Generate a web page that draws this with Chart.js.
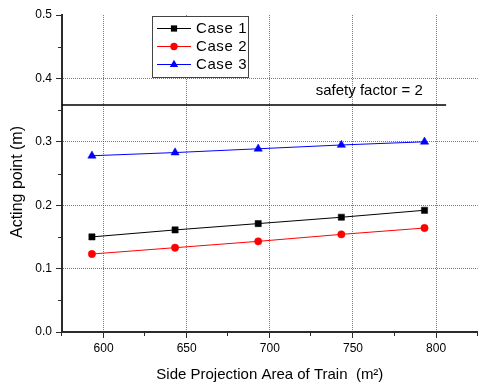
<!DOCTYPE html>
<html>
<head>
<meta charset="utf-8">
<script src="https://cdn.jsdelivr.net/npm/chart.js@4/dist/chart.umd.min.js"></script>
<style>
  html, body { margin: 0; padding: 0; background: #fff; }
  canvas { display: block; }
</style>
</head>
<body>
<canvas id="chart" width="483" height="383"></canvas>
<script>
// Side projection area of the train (m²) for each computed case
const areas = [593, 643, 693, 743, 793];
// Acting point height (m) per case
const case1 = [0.150, 0.161, 0.171, 0.181, 0.192];
const case2 = [0.123, 0.133, 0.143, 0.154, 0.164];
const case3 = [0.278, 0.283, 0.289, 0.295, 0.300];
const seriesNames = ['Case 1', 'Case 2', 'Case 3'];

// Axis ticks
const xMajorTicks = [600, 650, 700, 750, 800];
const xMinorTicks = [575, 625, 675, 725, 775, 825];
const yMajorTicks = [0, 0.1, 0.2, 0.3, 0.4, 0.5];
const yMinorTicks = [0.05, 0.15, 0.25, 0.35, 0.45];

// Safety-factor limit line
const safetyLevel = 0.358;
const safetySpan = [575, 806];
const safetyLabel = 'safety factor = 2';

const xTitle = 'Side Projection Area of Train  (m\u00B2)';
const yTitle = 'Acting point (m)';

const FONT = "'Liberation Sans', Arial, sans-serif";
const AXIS_COLOR = '#2b2b2b';
const GRID_COLOR = 'rgba(40,40,255,0.7)';

const styles = [
  { color: '#000000', pointStyle: 'rect', radius: 4.4 },
  { color: '#ff0000', pointStyle: 'circle', radius: 3.7 },
  { color: '#0000ff', pointStyle: 'triangle', radius: 4.8 }
];
const seriesValues = [case1, case2, case3];

const datasets = seriesValues.map((vals, i) => ({
  label: seriesNames[i],
  data: areas.map((x, j) => ({ x, y: vals[j] })),
  showLine: true,
  borderColor: styles[i].color,
  backgroundColor: styles[i].color,
  borderWidth: 1,
  pointStyle: styles[i].pointStyle,
  pointRadius: styles[i].radius,
  pointBorderWidth: 0.5,
  pointBorderColor: styles[i].color,
  pointBackgroundColor: styles[i].color
}));

datasets.push({
  label: 'safety',
  data: safetySpan.map(x => ({ x, y: safetyLevel })),
  showLine: true,
  borderColor: '#000',
  borderWidth: 1.6,
  pointRadius: 0
});

function drawMarker(ctx, style, x, y) {
  const r = style.radius;
  ctx.fillStyle = style.color;
  ctx.beginPath();
  if (style.pointStyle === 'rect') {
    const h = r * Math.SQRT1_2;
    ctx.rect(x - h, y - h, 2 * h, 2 * h);
  } else if (style.pointStyle === 'circle') {
    ctx.arc(x, y, r, 0, Math.PI * 2);
  } else {
    const a = Math.PI * 2 / 3;
    ctx.moveTo(x, y - r);
    ctx.lineTo(x + Math.sin(a) * r, y - Math.cos(a) * r);
    ctx.lineTo(x + Math.sin(2 * a) * r, y - Math.cos(2 * a) * r);
    ctx.closePath();
  }
  ctx.fill();
}

const decorations = {
  id: 'decorations',
  afterDraw(chart) {
    const { ctx, chartArea: area, scales: { x, y } } = chart;
    ctx.save();

    // minor ticks
    ctx.strokeStyle = AXIS_COLOR;
    ctx.lineWidth = 1;
    ctx.beginPath();
    xMinorTicks.forEach(v => {
      const px = Math.round(x.getPixelForValue(v)) - 0.5;
      ctx.moveTo(px, area.bottom);
      ctx.lineTo(px, area.bottom + 4);
    });
    yMinorTicks.forEach(v => {
      const py = Math.round(y.getPixelForValue(v)) + 0.5;
      ctx.moveTo(area.left - 4, py);
      ctx.lineTo(area.left, py);
    });
    ctx.stroke();

    // safety factor label
    ctx.fillStyle = '#000';
    ctx.font = '15px ' + FONT;
    ctx.textAlign = 'right';
    ctx.textBaseline = 'middle';
    ctx.fillText(safetyLabel, x.getPixelForValue(792), y.getPixelForValue(0.381));

    // axis titles
    ctx.textAlign = 'center';
    ctx.fillText(xTitle, (area.left + area.right) / 2, 375);
    ctx.save();
    ctx.translate(18, 182);
    ctx.rotate(-Math.PI / 2);
    ctx.font = '16px ' + FONT;
    ctx.fillText(yTitle, 0, 0);
    ctx.restore();

    // legend box
    const bx = area.left + 90, by = area.top + 1, bw = 96, bh = 61;
    ctx.fillStyle = '#fff';
    ctx.fillRect(bx, by, bw, bh);
    ctx.strokeStyle = '#444';
    ctx.lineWidth = 1;
    ctx.strokeRect(bx + 0.5, by + 0.5, bw, bh);
    ctx.font = '15px ' + FONT;
    ctx.textAlign = 'left';
    ctx.textBaseline = 'middle';
    if ('letterSpacing' in ctx) ctx.letterSpacing = '0.6px';
    seriesNames.forEach((name, i) => {
      const ry = by + 12.5 + i * 18;
      ctx.strokeStyle = styles[i].color;
      ctx.lineWidth = 1;
      ctx.beginPath();
      ctx.moveTo(bx + 5, ry);
      ctx.lineTo(bx + 39, ry);
      ctx.stroke();
      drawMarker(ctx, styles[i], bx + 22, ry);
      ctx.fillStyle = '#000';
      ctx.fillText(name, bx + 44, ry + 0.5);
    });
    ctx.restore();
  }
};

new Chart(document.getElementById('chart'), {
  type: 'scatter',
  data: { datasets },
  options: {
    responsive: false,
    devicePixelRatio: 1,
    animation: false,
    layout: { padding: { top: 15, right: 1, left: 0, bottom: 0 } },
    plugins: { legend: { display: false }, tooltip: { enabled: false } },
    scales: {
      x: {
        type: 'linear',
        min: 575,
        max: 825,
        afterBuildTicks: s => { s.ticks = xMajorTicks.map(v => ({ value: v })); },
        afterFit: s => { s.height = 51; },
        ticks: {
          autoSkip: false,
          maxRotation: 0,
          padding: 3,
          color: '#000',
          font: { family: FONT, size: 12 },
          callback: v => String(v)
        },
        grid: {
          color: GRID_COLOR,
          lineWidth: 1,
          tickLength: 6,
          tickColor: AXIS_COLOR,
          tickWidth: 1,
          tickBorderDash: []
        },
        border: { color: AXIS_COLOR, width: 2, dash: [1, 1] }
      },
      y: {
        min: 0,
        max: 0.5,
        afterBuildTicks: s => { s.ticks = yMajorTicks.map(v => ({ value: v })); },
        afterFit: s => { s.width = 62; },
        ticks: {
          padding: 4,
          color: '#000',
          font: { family: FONT, size: 12 },
          callback: v => Number(v).toFixed(1)
        },
        grid: {
          color: c => (c.tick && c.tick.value > 0.01 && c.tick.value < 0.49) ? GRID_COLOR : 'rgba(0,0,0,0)',
          lineWidth: 1,
          tickLength: 6,
          tickColor: AXIS_COLOR,
          tickWidth: 1,
          tickBorderDash: []
        },
        border: { color: AXIS_COLOR, width: 2, dash: [1, 1] }
      }
    }
  },
  plugins: [decorations]
});
</script>
</body>
</html>
